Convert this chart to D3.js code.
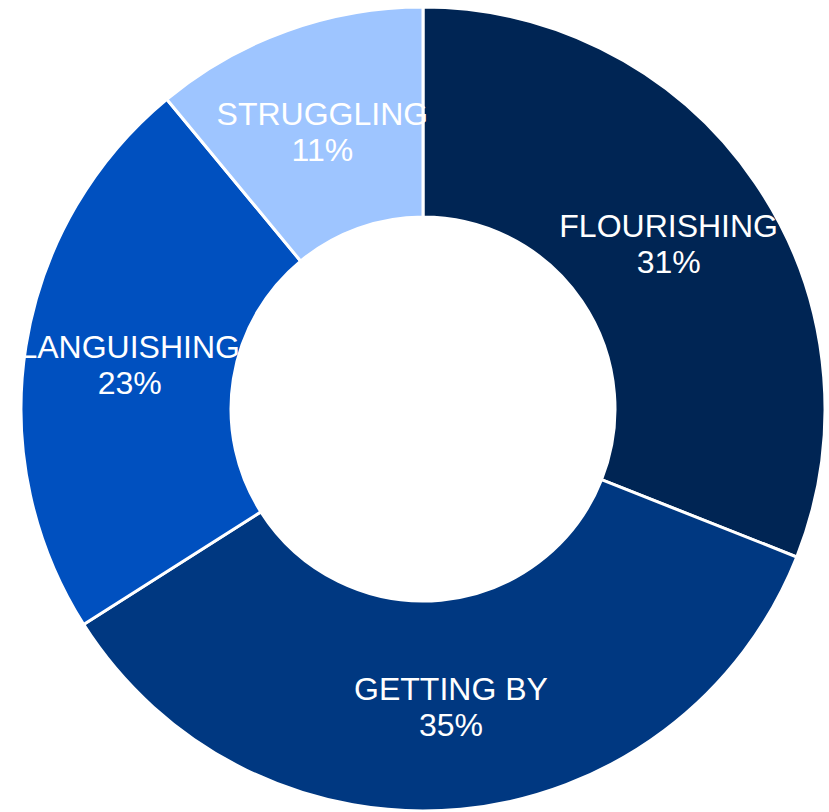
<!DOCTYPE html>
<html>
<head>
<meta charset="utf-8">
<script src="https://cdn.jsdelivr.net/npm/d3@7"></script>
<style>
  html, body { margin: 0; padding: 0; background: #ffffff; }
  svg { display: block; }
</style>
</head>
<body>
<svg id="chart" width="829" height="812"></svg>
<script>
// Wellbeing categories, clockwise from 12 o'clock
const categories = ["FLOURISHING", "GETTING BY", "LANGUISHING", "STRUGGLING"];
const shares = [31, 35, 23, 11];
const sliceColors = ["#002554", "#003881", "#0050bf", "#9ec5ff"];

const width = 829, height = 812;
const cx = 423, cy = 409;
const outerR = 402, innerR = 192;

const svg = d3.select("#chart");
const g = svg.append("g").attr("transform", `translate(${cx},${cy})`);

const data = categories.map((c, i) => ({ name: c, value: shares[i], color: sliceColors[i] }));

const pie = d3.pie().value(d => d.value).sort(null);
const arc = d3.arc().innerRadius(innerR).outerRadius(outerR);
const arcs = pie(data);

g.selectAll("path.slice")
  .data(arcs)
  .join("path")
  .attr("class", "slice")
  .attr("d", arc)
  .attr("fill", d => d.data.color)
  .attr("stroke", "#ffffff")
  .attr("stroke-width", 3)
  .attr("stroke-linejoin", "miter");

const labels = g.selectAll("text.label")
  .data(arcs)
  .join("text")
  .attr("class", "label")
  .attr("transform", d => `translate(${arc.centroid(d)})`)
  .attr("text-anchor", "middle")
  .attr("fill", "#ffffff")
  .style("font-family", "'Liberation Sans', Arial, sans-serif")
  .style("font-size", "32px");

labels.append("tspan")
  .attr("x", 0)
  .attr("y", -5)
  .text(d => d.data.name);

labels.append("tspan")
  .attr("x", 0)
  .attr("y", 31)
  .text(d => d.data.value + "%");
</script>
</body>
</html>
